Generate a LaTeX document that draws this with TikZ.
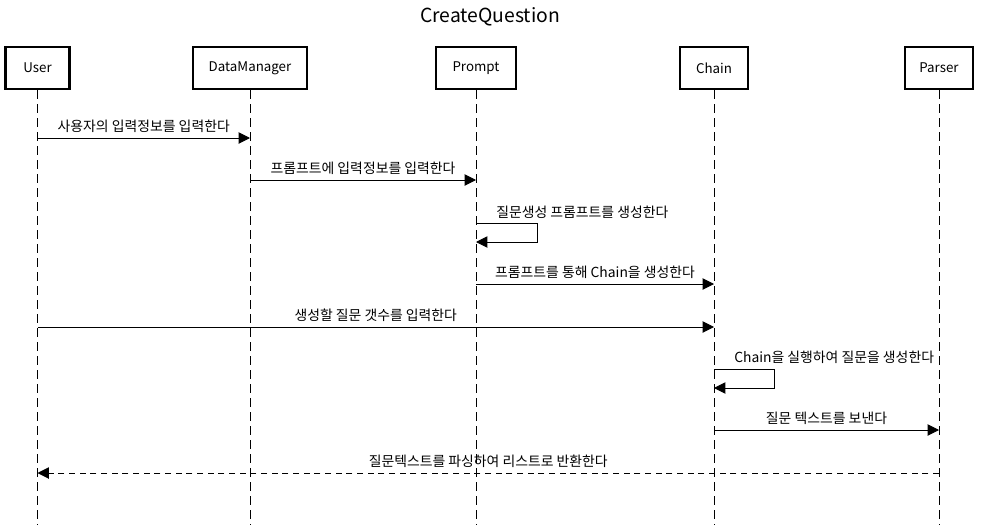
\documentclass[tikz,border=0pt]{standalone}
\usepackage{fontspec}
\setmainfont{Noto Sans CJK KR}
\usetikzlibrary{arrows.meta}

\tikzset{
    actor/.style={draw, line width=1.6pt, minimum height=31.5pt, inner sep=0pt, font=\fontsize{10}{12}\selectfont},
    life/.style={line width=0.75pt, dash pattern=on 6.5pt off 4pt},
    msg/.style={line width=0.75pt, -{Triangle[length=8.5pt, width=8.5pt]}},
    reply/.style={msg, dash pattern=on 4.5pt off 3.5pt},
    lbl/.style={font=\fontsize{10.4}{12}\selectfont, inner sep=0pt}
}

\begin{document}
\begin{tikzpicture}[x=0.75pt, y=-0.75pt]
        \useasboundingbox (0,0) rectangle (983,525);

        \node[font=\fontsize{14.5}{17}\selectfont] (title) at (490,17) {CreateQuestion};

        % Участники
        \node[actor, minimum width=48pt]   (user)   at (37.5,68) {User};
        \node[actor, minimum width=85.5pt] (dm)     at (250,68)  {DataManager};
        \node[actor, minimum width=60pt]   (prompt) at (476,68)  {Prompt};
        \node[actor, minimum width=51pt]   (chain)  at (714,68)  {Chain};
        \node[actor, minimum width=51pt]   (parser) at (939,68)  {Parser};

        % Линии жизни
        \coordinate (user-end)   at (user   |- 0,525);
        \coordinate (dm-end)     at (dm     |- 0,525);
        \coordinate (prompt-end) at (prompt |- 0,525);
        \coordinate (chain-end)  at (chain  |- 0,525);
        \coordinate (parser-end) at (parser |- 0,525);
        \draw[life] (user.south)   -- (user-end);
        \draw[life] (dm.south)     -- (dm-end);
        \draw[life] (prompt.south) -- (prompt-end);
        \draw[life] (chain.south)  -- (chain-end);
        \draw[life] (parser.south) -- (parser-end);

        % Точки сообщений
        \coordinate (u1) at (user   |- 0,138);
        \coordinate (d1) at (dm     |- 0,138);
        \coordinate (d2) at (dm     |- 0,180);
        \coordinate (p2) at (prompt |- 0,180);
        \coordinate (p3) at (prompt |- 0,223);
        \coordinate (p4) at (prompt |- 0,242);
        \coordinate (p5) at (prompt |- 0,284);
        \coordinate (c5) at (chain  |- 0,284);
        \coordinate (u6) at (user   |- 0,327);
        \coordinate (c6) at (chain  |- 0,327);
        \coordinate (c7) at (chain  |- 0,369);
        \coordinate (c8) at (chain  |- 0,388);
        \coordinate (c9) at (chain  |- 0,430);
        \coordinate (r9) at (parser |- 0,430);
        \coordinate (r10) at (parser |- 0,473);
        \coordinate (u10) at (user   |- 0,473);

        % Сообщения
        \draw[msg] (u1) -- (d1) node[lbl, midway, above=4pt] {사용자의 입력정보를 입력한다};
        \draw[msg] (d2) -- (p2) node[lbl, midway, above=4pt] {프롬프트에 입력정보를 입력한다};
        \draw[msg] (p3) -- ++(61,0) |- (p4);
        \node[lbl, anchor=west] (self1) at (496,212) {질문생성 프롬프트를 생성한다};
        \draw[msg] (p5) -- (c5) node[lbl, midway, above=4pt] {프롬프트를 통해 Chain을 생성한다};
        \draw[msg] (u6) -- (c6) node[lbl, midway, above=4pt] {생성할 질문 갯수를 입력한다};
        \draw[msg] (c7) -- ++(60,0) |- (c8);
        \node[lbl, anchor=west] (self2) at (734,357) {Chain을 실행하여 질문을 생성한다};
        \draw[msg] (c9) -- (r9) node[lbl, midway, above=4pt] {질문 텍스트를 보낸다};
        \draw[reply] (r10) -- (u10) node[lbl, midway, above=4pt] {질문텍스트를 파싱하여 리스트로 반환한다};
    \end{tikzpicture}
\end{document}
